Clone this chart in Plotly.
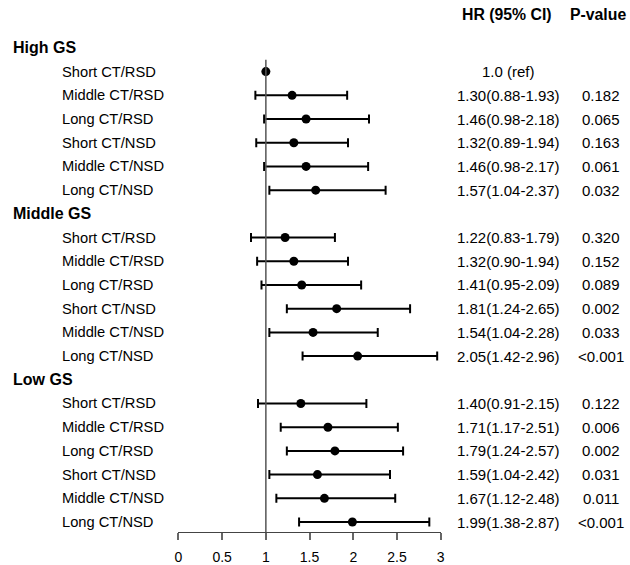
import plotly.graph_objects as go

groups = ["High GS", "Middle GS", "Low GS"]
subgroups = ["Short CT/RSD", "Middle CT/RSD", "Long CT/RSD",
             "Short CT/NSD", "Middle CT/NSD", "Long CT/NSD"]

hr = [1.00, 1.30, 1.46, 1.32, 1.46, 1.57,
      1.22, 1.32, 1.41, 1.81, 1.54, 2.05,
      1.40, 1.71, 1.79, 1.59, 1.67, 1.99]
lower = [None, 0.88, 0.98, 0.89, 0.98, 1.04,
         0.83, 0.90, 0.95, 1.24, 1.04, 1.42,
         0.91, 1.17, 1.24, 1.04, 1.12, 1.38]
upper = [None, 1.93, 2.18, 1.94, 2.17, 2.37,
         1.79, 1.94, 2.09, 2.65, 2.28, 2.96,
         2.15, 2.51, 2.57, 2.42, 2.48, 2.87]
hr_text = ["1.0 (ref)", "1.30(0.88-1.93)", "1.46(0.98-2.18)", "1.32(0.89-1.94)",
           "1.46(0.98-2.17)", "1.57(1.04-2.37)",
           "1.22(0.83-1.79)", "1.32(0.90-1.94)", "1.41(0.95-2.09)", "1.81(1.24-2.65)",
           "1.54(1.04-2.28)", "2.05(1.42-2.96)",
           "1.40(0.91-2.15)", "1.71(1.17-2.51)", "1.79(1.24-2.57)", "1.59(1.04-2.42)",
           "1.67(1.12-2.48)", "1.99(1.38-2.87)"]
p_text = ["", "0.182", "0.065", "0.163", "0.061", "0.032",
          "0.320", "0.152", "0.089", "0.002", "0.033", "<0.001",
          "0.122", "0.006", "0.002", "0.031", "0.011", "<0.001"]
x_ticks = [0, 0.5, 1, 1.5, 2, 2.5, 3]
x_tick_labels = ["0", "0.5", "1", "1.5", "2", "2.5", "3"]

FONT = "Arial, Liberation Sans, sans-serif"
W, H = 630, 565
row_y = []
header_y = []
idx = 0
for g in groups:
    header_y.append(idx)
    idx += 1
    for _ in subgroups:
        row_y.append(idx)
        idx += 1

err_plus = [None if u is None else u - h for h, u in zip(hr, upper)]
err_minus = [None if l is None else h - l for h, l in zip(hr, lower)]

fig = go.Figure()
fig.add_trace(go.Scatter(
    x=hr, y=row_y, mode="markers",
    marker=dict(color="black", size=9),
    error_x=dict(type="data", symmetric=False, array=err_plus, arrayminus=err_minus,
                 color="black", thickness=2, width=4.5),
    showlegend=False, hoverinfo="skip", cliponaxis=False,
))

plot_top, plot_bottom = 0, 533
row0_px, spacing = 48, 23.75
y_top = (plot_top - row0_px) / spacing
y_bot = (plot_bottom - row0_px) / spacing

fig.add_shape(type="line", xref="x", yref="y", x0=1, x1=1, y0=0.5, y1=y_bot,
              line=dict(color="#555555", width=1.5))

ann = []
for g, yy in zip(groups, header_y):
    ann.append(dict(text=f"<b>{g}</b>", x=7 / W, xref="paper", y=yy, yref="y",
                    xanchor="left", yanchor="middle", showarrow=False,
                    font=dict(size=16, family=FONT, color="black")))
i = 0
for gi in range(len(groups)):
    for s in subgroups:
        yy = row_y[i]
        ann.append(dict(text=s, x=57 / W, xref="paper", y=yy, yref="y",
                        xanchor="left", yanchor="middle", showarrow=False,
                        font=dict(size=14.7, family=FONT, color="black")))
        ann.append(dict(text=hr_text[i], x=511 / W, xref="paper", y=yy, yref="y",
                        xanchor="center", yanchor="middle", showarrow=False,
                        font=dict(size=15, family=FONT, color="black")))
        if p_text[i]:
            ann.append(dict(text=p_text[i], x=605 / W, xref="paper", y=yy, yref="y",
                            xanchor="center", yanchor="middle", showarrow=False,
                            font=dict(size=15, family=FONT, color="black")))
        i += 1
hy = (15 - row0_px) / spacing
ann.append(dict(text="<b>HR (95% CI)</b>", x=509 / W, xref="paper", y=hy, yref="y",
                xanchor="center", yanchor="middle", showarrow=False,
                font=dict(size=15.8, family=FONT, color="black")))
ann.append(dict(text="<b>P-value</b>", x=602 / W, xref="paper", y=hy, yref="y",
                xanchor="center", yanchor="middle", showarrow=False,
                font=dict(size=15.8, family=FONT, color="black")))

fig.update_layout(
    width=W, height=H,
    margin=dict(l=0, r=0, t=plot_top, b=H - plot_bottom),
    paper_bgcolor="white", plot_bgcolor="white",
    annotations=ann,
    xaxis=dict(domain=[176.7 / W, 442.3 / W], range=[0, 3], tickvals=x_ticks,
               ticktext=x_tick_labels, showgrid=False, zeroline=False,
               showline=True, linecolor="#444444", linewidth=1.2,
               ticks="outside", ticklen=7, tickcolor="#666666", tickwidth=1.5,
               ticklabelstandoff=5,
               tickfont=dict(size=14, family=FONT, color="black")),
    yaxis=dict(range=[y_bot, y_top], visible=False, showgrid=False, zeroline=False),
)

fig.write_html("out.html", config={"displayModeBar": False},
               post_script="document.body.style.margin='0px';document.body.style.overflow='hidden';")
